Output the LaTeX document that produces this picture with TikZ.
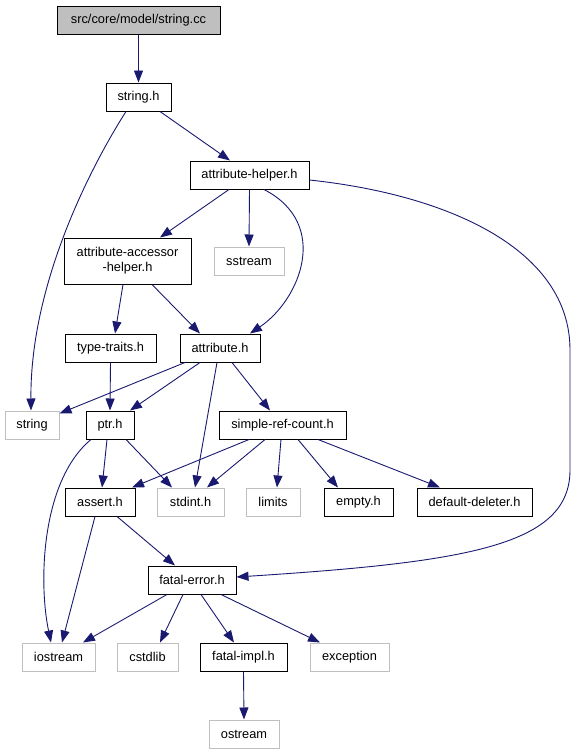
\documentclass[tikz,border=0pt]{standalone}
\usepackage{fontspec}
\setmainfont{Liberation Sans}
\usetikzlibrary{arrows.meta}
\definecolor{edgeblue}{HTML}{191970}
\definecolor{sysgray}{HTML}{BFBFBF}
\begin{document}
\begin{tikzpicture}[x=1pt,y=-1pt,
  every node/.style={font=\fontsize{12.8}{15}\selectfont, inner sep=0pt, minimum height=28pt, align=center},
  hdr/.style={draw=black, line width=1pt},
  sys/.style={draw=sysgray, line width=1pt},
  root/.style={draw=black, fill=sysgray, line width=1pt},
  dep/.style={draw=edgeblue, line width=0.9pt, -{Triangle[length=12pt,width=9pt]}}]
\useasboundingbox (0,0) rectangle (576,755);
\node[root, minimum width=163pt] (cc) at (138.5,20) {src/core/model/string.cc};
\node[hdr, minimum width=65pt] (stringh) at (138.5,97) {string.h};
\node[hdr, minimum width=119pt] (ah) at (249.5,175) {attribute-helper.h};
\node[hdr, minimum width=127pt, minimum height=46pt] (aah) at (127.5,261) {attribute-accessor\\-helper.h};
\node[sys, minimum width=70pt] (sstream) at (249,261) {sstream};
\node[hdr, minimum width=91pt] (tt) at (110.5,348) {type-traits.h};
\node[hdr, minimum width=80pt] (attr) at (220,348) {attribute.h};
\node[sys, minimum width=54pt] (string) at (32,425) {string};
\node[hdr, minimum width=48pt] (ptr) at (110,425) {ptr.h};
\node[hdr, minimum width=127pt] (src) at (282.5,425) {simple-ref-count.h};
\node[hdr, minimum width=70pt] (assert) at (100,502) {assert.h};
\node[sys, minimum width=67pt] (stdint) at (190.5,502) {stdint.h};
\node[sys, minimum width=54pt] (limits) at (273,502) {limits};
\node[hdr, minimum width=69pt] (empty) at (358.5,502) {empty.h};
\node[hdr, minimum width=115pt] (dd) at (474.5,502) {default-deleter.h};
\node[hdr, minimum width=88pt] (fe) at (192,580) {fatal-error.h};
\node[sys, minimum width=73pt] (iostream) at (58.5,657) {iostream};
\node[sys, minimum width=61pt] (cstdlib) at (147.5,657) {cstdlib};
\node[hdr, minimum width=87pt] (fi) at (243.5,657) {fatal-impl.h};
\node[sys, minimum width=79pt] (exception) at (349.5,657) {exception};
\node[sys, minimum width=70pt] (ostream) at (244,734) {ostream};

\draw[dep] (cc.south) -- (stringh.north);
\draw[dep] ([xshift=21.5pt]stringh.south) -- ([xshift=-19.5pt]ah.north);
\draw[dep] ([xshift=-12.5pt]stringh.south) .. controls (95,160) and (30,280) .. ([xshift=-1pt]string.north);
\draw[dep] ([xshift=-20.5pt]ah.south) -- ([xshift=32.5pt]aah.north);
\draw[dep] (ah.south) -- (sstream.north);
\draw[dep] ([xshift=14.5pt]ah.south) .. controls (331,224) and (300,300) .. ([xshift=30pt]attr.north);
\draw[dep] ([yshift=-5pt]ah.east) .. controls (450,195) and (570,250) .. (570,350) -- (570,470) .. controls (570,545) and (470,562) .. ([yshift=3pt]fe.east);
\draw[dep] ([xshift=-4.5pt]aah.south) -- ([xshift=4.5pt]tt.north);
\draw[dep] ([xshift=24.5pt]aah.south) -- ([xshift=-20pt]attr.north);
\draw[dep] (tt.south) -- (ptr.north);
\draw[dep] ([xshift=-35pt]attr.south) -- ([yshift=-3pt]string.north east);
\draw[dep] ([xshift=-20pt]attr.south) -- ([xshift=20pt]ptr.north);
\draw[dep] ([xshift=-3pt]attr.south) -- ([xshift=4.5pt]stdint.north);
\draw[dep] ([xshift=12pt]attr.south) -- ([xshift=-12.5pt]src.north);
\draw[dep] ([xshift=-19pt]ptr.south) .. controls (42,480) and (38,580) .. ([xshift=-7.5pt]iostream.north);
\draw[dep] ([xshift=-3pt]ptr.south) -- ([xshift=2pt]assert.north);
\draw[dep] ([xshift=16pt]ptr.south) -- ([xshift=-18.5pt]stdint.north);
\draw[dep] ([xshift=-33.5pt]src.south) -- ([xshift=32pt]assert.north);
\draw[dep] ([xshift=-17.5pt]src.south) -- ([xshift=16.5pt]stdint.north);
\draw[dep] ([xshift=-1.5pt]src.south) -- ([xshift=4pt]limits.north);
\draw[dep] ([xshift=15.5pt]src.south) -- ([xshift=-20.5pt]empty.north);
\draw[dep] ([xshift=35.5pt]src.south) -- ([xshift=-34.5pt]dd.north);
\draw[dep] ([xshift=-5pt]assert.south) -- ([xshift=3.5pt]iostream.north);
\draw[dep] ([xshift=17pt]assert.south) -- ([xshift=-17pt]fe.north);
\draw[dep] ([xshift=-25pt]fe.south) -- ([xshift=24.5pt]iostream.north);
\draw[dep] ([xshift=-9pt]fe.south) -- ([xshift=12.5pt]cstdlib.north);
\draw[dep] ([xshift=9pt]fe.south) -- ([xshift=-9.5pt]fi.north);
\draw[dep] ([xshift=29pt]fe.south) -- ([xshift=-29.5pt]exception.north);
\draw[dep] (fi.south) -- (ostream.north);
\end{tikzpicture}
\end{document}
